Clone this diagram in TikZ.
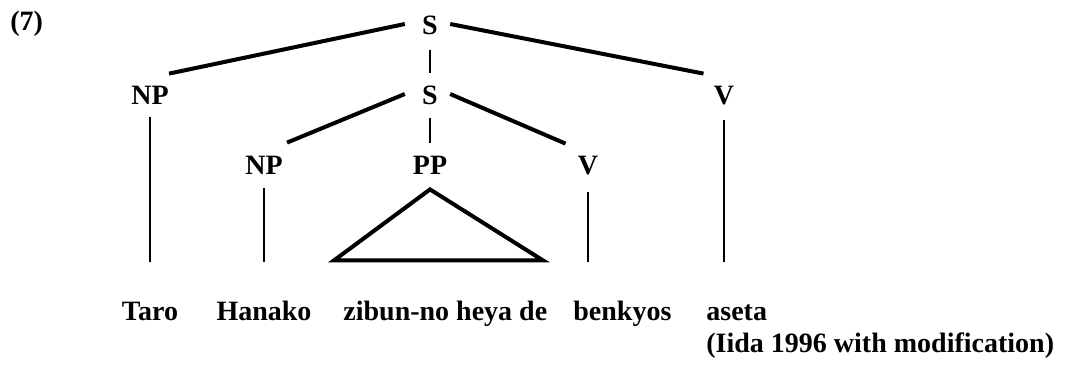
\documentclass[tikz,border=0pt]{standalone}
\usepackage{fontspec}
\setmainfont{Liberation Serif}[BoldFont={Liberation Serif Bold}]
\usetikzlibrary{positioning}

\begin{document}
\begin{tikzpicture}[x=0.5pt, y=-0.5pt, font=\fontsize{14}{17}\selectfont\rmfamily\bfseries,
  cat/.style={inner sep=0pt, text height=10pt, text depth=0pt},
  leaf/.style={inner sep=0pt, text height=10pt, text depth=3pt, anchor=base},
  branch/.style={line width=2pt},
  stem/.style={line width=1.4pt},
  roof/.style={line width=2pt}]
\useasboundingbox (0,0) rectangle (1065,364);

\node[anchor=base west, inner sep=0pt] (ex) at (10,31) {(7)};

% categories
\node[cat] (Stop) at (430,24) {S};
\node[cat] (NP1) at (150,94) {NP};
\node[cat] (Smid) at (430,94) {S};
\node[cat] (V1) at (724,94) {V};
\node[cat] (NP2) at (264,164) {NP};
\node[cat] (PP) at (430,164) {PP};
\node[cat] (V2) at (588,164) {V};

% words
\node[leaf] (taro) at (150,320) {Taro};
\node[leaf] (hanako) at (264,320) {Hanako};
\node[leaf, anchor=base west] (heya) at (343,320) {zibun-no heya de};
\node[leaf, anchor=base west] (benkyos) at (573,320) {benkyos};
\node[leaf, anchor=base west] (aseta) at (706,320) {aseta};
\node[leaf, anchor=base west] (src) at (706,352) {(Iida 1996 with modification)};

% branches
\draw[branch] ([xshift=-8.5pt]Stop.west) -- ([yshift=5pt]NP1.north east);
\draw[branch] ([xshift=6pt]Stop.east) -- ([shift={(-5pt,5pt)}]V1.north west);
\draw[stem, line width=1pt, shorten <=8pt, shorten >=5.5pt] (Stop) -- (Smid);
\draw[branch] ([xshift=-8.5pt]Smid.west) -- ([shift={(2pt,5.5pt)}]NP2.north east);
\draw[branch] ([xshift=6pt]Smid.east) -- ([shift={(-6pt,5pt)}]V2.north west);
\draw[stem, line width=1pt, shorten <=7pt, shorten >=5.5pt] (Smid) -- (PP);

\draw[stem, shorten <=6.5pt, shorten >=19pt] (NP1) -- (taro);
\draw[stem, shorten <=7pt, shorten >=19pt] (NP2) -- (hanako);
\draw[stem, shorten <=9pt, shorten >=19pt] (V2) -- (V2 |- benkyos.north);
\draw[stem, shorten <=8pt, shorten >=19pt] (V1) -- (V1 |- aseta.north);

% triangle
\draw[roof] ([yshift=-7.5pt]PP.south) -- ++(-96,71) -- ++(209,0) -- cycle;
\end{tikzpicture}
\end{document}
